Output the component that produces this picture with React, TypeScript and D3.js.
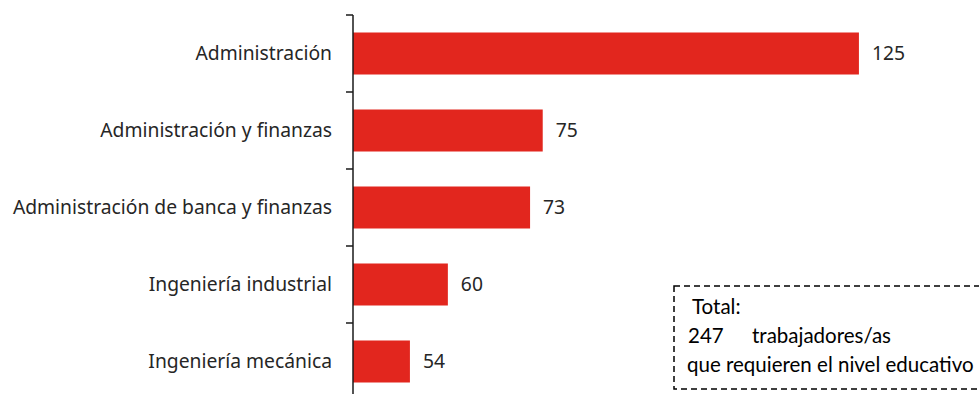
import React from "react";
import * as d3 from "d3";

const categories = [
  "Administración",
  "Administración y finanzas",
  "Administración de banca y finanzas",
  "Ingeniería industrial",
  "Ingeniería mecánica",
];
const values = [125, 75, 73, 60, 54];
const totalValue = 247;
const totalLines = ["Total:", "trabajadores/as", "que requieren el nivel educativo"];

const W = 979;
const H = 394;
const AXIS_X = 353;

export default function App() {
  const x = d3.scaleLinear().domain([45, 145]).range([AXIS_X, AXIS_X + 632.4]);
  const y = d3
    .scaleBand<string>()
    .domain(categories)
    .range([15, 400])
    .paddingInner(0.4545)
    .paddingOuter(0.2273);
  const step = y.step();
  const boundaries = d3.range(categories.length + 1).map((i) => 15 + i * step);
  const labelFont = "'Noto Sans', sans-serif";
  const boxFont = "Lato, Carlito, Calibri, sans-serif";

  return (
    <svg
      width={W}
      height={H}
      style={{ position: "absolute", left: 0, top: 0, background: "#fff" }}
    >
      {categories.map((c, i) => {
        const y0 = y(c)!;
        const bw = y.bandwidth();
        return (
          <g key={c}>
            <rect
              x={x(45)}
              y={y0}
              width={x(values[i]) - x(45)}
              height={bw}
              fill="#E2261E"
            />
            <text
              x={x(values[i]) + 13}
              y={y0 + bw / 2}
              dy="0.36em"
              fontFamily={labelFont}
              fontSize={19.3}
              fill="#262626"
            >
              {values[i]}
            </text>
            <text
              x={332}
              y={y0 + bw / 2}
              dy="0.36em"
              textAnchor="end"
              fontFamily={labelFont}
              fontSize={19.3}
              fill="#262626"
            >
              {c}
            </text>
          </g>
        );
      })}
      <line x1={AXIS_X} x2={AXIS_X} y1={15} y2={H} stroke="#1a1a1a" strokeWidth={1.5} />
      {boundaries.map((b, i) => (
        <line key={i} x1={AXIS_X - 7} x2={AXIS_X} y1={b} y2={b} stroke="#1a1a1a" strokeWidth={1.5} />
      ))}
      <rect
        x={674}
        y={286}
        width={320}
        height={103}
        fill="none"
        stroke="#000"
        strokeWidth={1.5}
        strokeDasharray="6 4"
      />
      <text x={692} y={314} fontFamily={boxFont} fontSize={20.5} fill="#000">
        {totalLines[0]}
      </text>
      <text x={688} y={343} fontFamily={boxFont} fontSize={20.5} fill="#000">
        {totalValue}
      </text>
      <text x={752} y={343} fontFamily={boxFont} fontSize={20.5} fill="#000">
        {totalLines[1]}
      </text>
      <text x={687} y={372} fontFamily={boxFont} fontSize={20.5} fill="#000">
        {totalLines[2]}
      </text>
    </svg>
  );
}
